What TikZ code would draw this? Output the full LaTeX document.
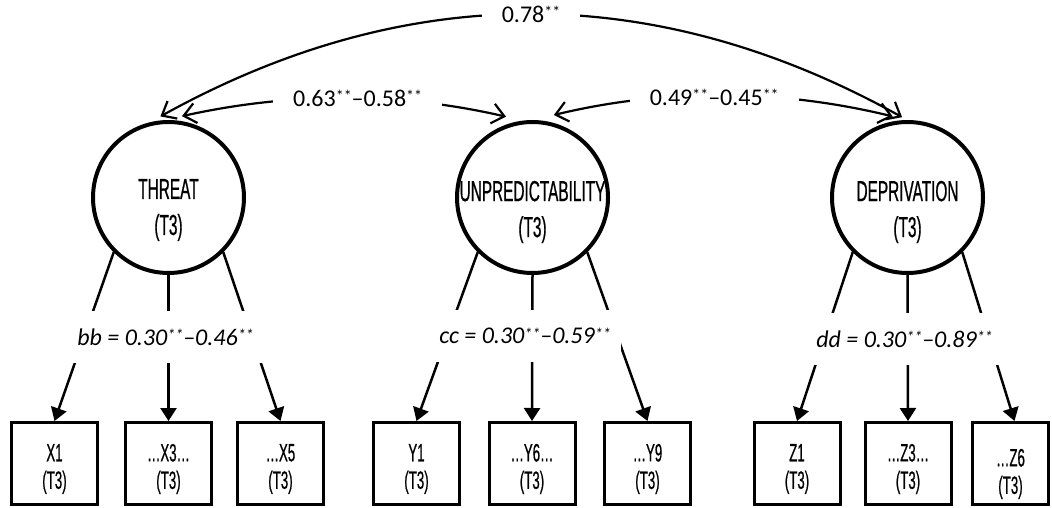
\documentclass[tikz,border=0pt]{standalone}
\usepackage{fontspec}
\setmainfont{Carlito}
\newfontfamily\condfont[FakeStretch=0.53,FakeBold=0.6]{Liberation Sans}
\usetikzlibrary{arrows.meta}
% significance stars set as a small raised mark
\newcommand{\sig}{\raisebox{4.5pt}{\fontsize{16}{16}\selectfont **}}

\begin{document}
\begin{tikzpicture}[x=1pt,y=1pt,
  latent/.style={circle,draw,line width=4pt,minimum size=151pt,inner sep=0pt},
  latname/.style={align=center,font=\condfont\fontsize{29}{36}\selectfont,inner sep=0pt},
  indic/.style={draw,line width=3pt,minimum width=86pt,minimum height=82pt,inner sep=0pt},
  indname/.style={align=center,font=\condfont\fontsize{25}{27.5}\selectfont,inner sep=0pt},
  loading/.style={line width=2.5pt,-{Triangle[length=13pt,width=16pt]}},
  loadlabel/.style={fill=white,inner xsep=10pt,inner ysep=0pt,minimum height=52pt,
    font=\fontsize{24}{28}\selectfont\itshape},
  covar/.style={line width=2.2pt,
    {Straight Barb[length=12pt,width=20pt]}-{Straight Barb[length=12pt,width=20pt]}},
  covlabel/.style={fill=white,inner xsep=20pt,inner ysep=2pt,font=\fontsize{24}{28}\selectfont}
]
\useasboundingbox (0,0) rectangle (1052,507);

% latent factors
\node[latent] (threat) at (168.5,309.5) {};
\node[latent] (unpred) at (532.5,309.5) {};
\node[latent] (depriv) at (907.5,309.5) {};
\node[latname] (threatN) at (168.5,297) {THREAT\\(T3)};
\node[latname] (unpredN) at (532.5,295) {UNPREDICTABILITY\\(T3)};
\node[latname] (deprivN) at (907.5,295) {DEPRIVATION\\(T3)};

% observed indicators
\node[indic] (x1) at (54.5,43.5) {};
\node[indic] (x3) at (168.5,43.5) {};
\node[indic] (x5) at (280.5,43.5) {};
\node[indic] (y1) at (416.5,43.5) {};
\node[indic] (y6) at (532,43.5) {};
\node[indic] (y9) at (647.5,43.5) {};
\node[indic] (z1) at (797,43.5) {};
\node[indic] (z3) at (908,43.5) {};
\node[indic,minimum width=76pt] (z6) at (1010.5,43.5) {};
\node[indname] (x1N) at (54.5,38) {X1\\(T3)};
\node[indname] (x3N) at (168.5,38) {…X3…\\(T3)};
\node[indname] (x5N) at (280.5,38) {…X5\\(T3)};
\node[indname] (y1N) at (416.5,38) {Y1\\(T3)};
\node[indname] (y6N) at (532,38) {…Y6…\\(T3)};
\node[indname] (y9N) at (647.5,38) {…Y9\\(T3)};
\node[indname] (z1N) at (797,38) {Z1\\(T3)};
\node[indname] (z3N) at (908,38) {…Z3…\\(T3)};
\node[indname] (z6N) at (1010.5,33) {…Z6\\(T3)};

% factor loadings
\draw[loading] (threat.-135) -- (x1.north);
\draw[loading] (threat.-90) -- (x3.north);
\draw[loading] (threat.-45) -- (x5.north);
\draw[loading] (unpred.-135) -- (y1.north);
\draw[loading] (unpred.-90) -- (y6.north);
\draw[loading] (unpred.-45) -- (y9.north);
\draw[loading] (depriv.-135) -- (z1.north);
\draw[loading] (depriv.-90) -- (z3.north);
\draw[loading] (depriv.-45) -- ([xshift=4pt]z6.north);

\node[loadlabel] (bbL) at (165.5,170) {bb = 0.30\sig–0.46\sig};
\node[loadlabel] (ccL) at (525,171) {cc = 0.30\sig–0.59\sig};
\node[loadlabel] (ddL) at (904.5,168) {dd = 0.30\sig–0.89\sig};

% factor correlations
\draw[covar] ([yshift=4pt]threat.96) .. controls (407,527) and (655,527) .. ([yshift=3pt]depriv.94)
  node[covlabel,pos=0.5] (r78) {0.78\sig};
\draw[covar] ([yshift=5pt]threat.80) .. controls (291,415) and (399,415) .. ([yshift=8pt]unpred.110)
  node[covlabel,pos=0.54] (r63) {0.63\sig–0.58\sig};
\draw[covar] ([yshift=8pt]unpred.74) .. controls (666,419) and (780,418) .. ([yshift=5pt]depriv.101)
  node[covlabel,pos=0.474,yshift=-2pt] (r49) {0.49\sig–0.45\sig};
\end{tikzpicture}
\end{document}
